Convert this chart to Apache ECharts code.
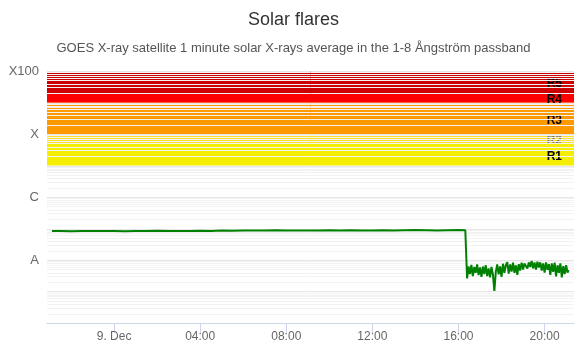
<!DOCTYPE html>
<html>
<head>
<meta charset="utf-8">
<script src="https://cdn.jsdelivr.net/npm/echarts@6/dist/echarts.min.js"></script>
<style>
  html, body { margin: 0; padding: 0; background: #fff; }
  #chart { width: 587px; height: 352px; }
</style>
</head>
<body>
<div id="chart"></div>
<script>
// 'day HH:MM' (December), flux in W/m^2
const times = [
  '8 21:07', '8 21:30', '8 22:00', '8 22:30', '8 23:00', '8 23:30',
  '9 00:00', '9 00:30', '9 01:00', '9 01:30', '9 02:00', '9 02:30',
  '9 03:00', '9 03:30', '9 04:00', '9 04:30', '9 05:00', '9 05:30',
  '9 06:00', '9 06:30', '9 07:00', '9 07:30', '9 08:00', '9 08:30',
  '9 09:00', '9 09:30', '9 10:00', '9 10:30', '9 11:00', '9 11:30',
  '9 12:00', '9 12:30', '9 13:00', '9 13:30', '9 14:00', '9 14:30',
  '9 15:00', '9 15:30', '9 16:00', '9 16:19',
  '9 16:24', '9 16:28', '9 16:32', '9 16:36', '9 16:40', '9 16:44',
  '9 16:48', '9 16:52', '9 16:56', '9 17:00', '9 17:04', '9 17:08',
  '9 17:12', '9 17:16', '9 17:20', '9 17:24', '9 17:28', '9 17:32',
  '9 17:36', '9 17:40', '9 17:44', '9 17:48', '9 17:52', '9 17:56',
  '9 18:00', '9 18:04', '9 18:08', '9 18:12', '9 18:16', '9 18:20',
  '9 18:24', '9 18:28', '9 18:32', '9 18:36', '9 18:40', '9 18:44',
  '9 18:48', '9 18:52', '9 18:56', '9 19:00', '9 19:04', '9 19:08',
  '9 19:12', '9 19:16', '9 19:20', '9 19:24', '9 19:28', '9 19:32',
  '9 19:36', '9 19:40', '9 19:44', '9 19:48', '9 19:52', '9 19:56',
  '9 20:00', '9 20:04', '9 20:08', '9 20:12', '9 20:16', '9 20:20',
  '9 20:24', '9 20:28', '9 20:32', '9 20:36', '9 20:40', '9 20:44',
  '9 20:48', '9 20:52', '9 20:56', '9 21:00', '9 21:04', '9 21:07'
];
const flux = [
  8.3e-8, 8.4e-8, 8.2e-8, 8.4e-8, 8.3e-8, 8.3e-8,
  8.4e-8, 8.2e-8, 8.4e-8, 8.3e-8, 8.5e-8, 8.3e-8,
  8.4e-8, 8.4e-8, 8.5e-8, 8.4e-8, 8.6e-8, 8.5e-8,
  8.6e-8, 8.7e-8, 8.6e-8, 8.8e-8, 8.7e-8, 8.6e-8,
  8.7e-8, 8.6e-8, 8.8e-8, 8.7e-8, 8.8e-8, 8.7e-8,
  8.6e-8, 8.8e-8, 8.7e-8, 8.8e-8, 8.9e-8, 8.8e-8,
  8.7e-8, 8.8e-8, 8.9e-8, 8.8e-8,
  2.6e-9, 6.2e-9, 3.6e-9, 7.0e-9, 3.1e-9, 6.0e-9,
  3.9e-9, 7.2e-9, 3.3e-9, 5.8e-9, 2.9e-9, 6.2e-9,
  3.6e-9, 6.8e-9, 3.1e-9, 5.4e-9, 2.8e-9, 6.0e-9,
  3.4e-9, 1.04e-9, 4.2e-9, 7.2e-9, 3.5e-9, 6.3e-9,
  2.9e-9, 7.6e-9, 3.9e-9, 6.8e-9, 8.6e-9, 3.7e-9,
  7.2e-9, 4.3e-9, 8.2e-9, 3.9e-9, 6.8e-9, 3.4e-9,
  7.4e-9, 4.6e-9, 8.2e-9, 5.0e-9, 7.8e-9, 9.0e-9,
  5.4e-9, 8.4e-9, 6.0e-9, 9.3e-9, 5.4e-9, 8.4e-9,
  5.0e-9, 8.8e-9, 5.8e-9, 8.4e-9, 4.6e-9, 7.8e-9,
  4.0e-9, 8.4e-9, 4.9e-9, 7.4e-9, 3.4e-9, 7.8e-9,
  4.2e-9, 8.2e-9, 3.0e-9, 6.8e-9, 3.9e-9, 7.8e-9,
  2.8e-9, 6.4e-9, 3.6e-9, 6.8e-9, 4.0e-9, 4.8e-9
];

// y-axis class labels at decades (exponent -> name)
const classExp = [-8, -6, -4, -2];
const classNames = ['A', 'C', 'X', 'X100'];

// radio blackout scale bands
const bandNames = ['R1', 'R2', 'R3', 'R4', 'R5'];
const bandFrom = [1e-5, 5e-5, 1e-4, 1e-3, 2e-3];
const bandTo = [5e-5, 1e-4, 1e-3, 2e-3, 1e-2];
const bandColors = ['#f6ee00', '#fbe22a', '#ff9900', '#ff0000', '#cc0000'];

// x ticks: hours of 9 Dec
const tickHours = [0, 4, 8, 12, 16, 20];

const xMin = Date.UTC(2024, 11, 8, 20, 53);
const xMax = Date.UTC(2024, 11, 9, 21, 22);

function toTime(s) {
  const [d, hm] = s.split(' ');
  const [h, m] = hm.split(':').map(Number);
  return Date.UTC(2024, 11, +d, h, m);
}

const lineData = times.map((t, i) => [toTime(t), flux[i]]);
const bandData = bandNames.map((n, i) => [xMin, bandFrom[i], bandTo[i], i]);

// log grid lines (1..9 per decade): [x, value, isMajor]
const gridLines = [];
for (let e = -10; e <= -3; e++) {
  for (let m = 1; m <= 9; m++) {
    if (e === -10 && m === 1) continue;
    gridLines.push([xMin, m * Math.pow(10, e), m === 1 ? 1 : 0]);
  }
}
gridLines.push([xMin, 1e-2, 1]);

const chart = echarts.init(document.getElementById('chart'), null, { renderer: 'canvas' });

chart.setOption({
  animation: false,
  textStyle: { fontFamily: 'Liberation Sans, Arial, sans-serif' },
  title: {
    text: 'Solar flares',
    subtext: 'GOES X-ray satellite 1 minute solar X-rays average in the 1-8 Ångström passband',
    left: 'center',
    top: 6,
    itemGap: 13,
    textStyle: { fontSize: 18, fontWeight: 'normal', color: '#333333' },
    subtextStyle: { fontSize: 13, color: '#555555' }
  },
  grid: { left: 47, right: 13, top: 71, bottom: 29 },
  xAxis: {
    type: 'value',
    min: xMin,
    max: xMax,
    splitLine: { show: false },
    axisLine: { lineStyle: { color: '#ccd6eb' } },
    axisTick: {
      length: 10,
      lineStyle: { color: '#ccd6eb' },
      customValues: tickHours.map(h => Date.UTC(2024, 11, 9, h))
    },
    axisLabel: {
      color: '#666666',
      fontSize: 12,
      margin: 8,
      customValues: tickHours.map(h => Date.UTC(2024, 11, 9, h)),
      formatter: v => {
        const d = new Date(v);
        const h = d.getUTCHours();
        if (h === 0) return d.getUTCDate() + '. Dec';
        return String(h).padStart(2, '0') + ':00';
      }
    }
  },
  yAxis: {
    type: 'log',
    logBase: 10,
    min: 1e-10,
    max: 1e-2,
    axisLine: { show: false },
    axisTick: { show: false },
    splitLine: { show: false },
    axisLabel: {
      color: '#666666',
      fontSize: 13,
      margin: 8,
      formatter: v => {
        const i = classExp.indexOf(Math.round(Math.log10(v)));
        return i >= 0 ? classNames[i] : '';
      }
    }
  },
  series: [
    {
      name: 'bands',
      type: 'custom',
      z: 1,
      silent: true,
      data: bandData,
      encode: { x: 0, y: [1, 2] },
      renderItem: (params, api) => {
        const cs = params.coordSys;
        const i = api.value(3);
        const yLo = api.coord([api.value(0), api.value(1)])[1];
        const yHi = api.coord([api.value(0), api.value(2)])[1];
        return {
          type: 'group',
          children: [
            {
              type: 'rect',
              shape: { x: cs.x, y: yHi, width: cs.width, height: yLo - yHi },
              style: { fill: bandColors[i] }
            },
            {
              type: 'text',
              x: cs.x + cs.width - 12,
              y: (yLo + yHi) / 2 + 2,
              style: {
                text: bandNames[i],
                align: 'right',
                verticalAlign: 'middle',
                fill: bandNames[i] === 'R2' ? '#777777' : '#000000',
                font: 'bold 12px Liberation Sans, Arial, sans-serif'
              }
            }
          ]
        };
      }
    },
    {
      name: 'grid',
      type: 'custom',
      z: 4,
      silent: true,
      data: gridLines,
      encode: { x: 0, y: 1 },
      renderItem: (params, api) => {
        const cs = params.coordSys;
        const y = Math.round(api.coord([api.value(0), api.value(1)])[1]) + 0.5;
        return {
          type: 'line',
          shape: { x1: cs.x, y1: y, x2: cs.x + cs.width, y2: y },
          style: { stroke: api.value(2) ? '#e6e6e6' : '#f2f2f2', lineWidth: 1 }
        };
      }
    },
    {
      name: 'X-ray flux',
      type: 'line',
      z: 10,
      data: lineData,
      showSymbol: false,
      lineStyle: { color: '#008000', width: 2 },
      itemStyle: { color: '#008000' }
    }
  ]
});
</script>
</body>
</html>
